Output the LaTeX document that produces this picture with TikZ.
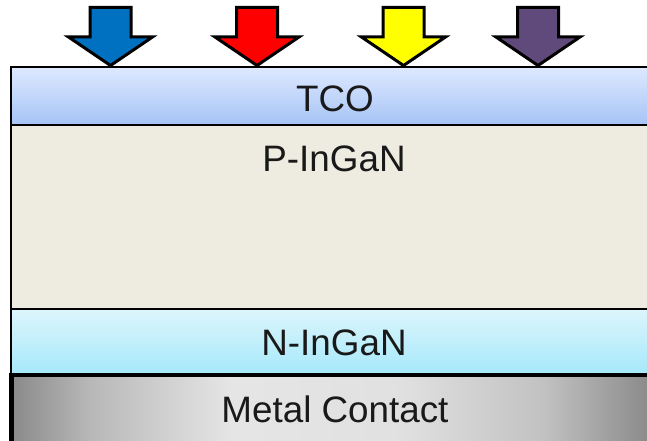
\documentclass[tikz,border=0pt]{standalone}
\usepackage{fontspec}
\setmainfont{Liberation Sans}
\definecolor{tcotop}{HTML}{DEE9FF}
\definecolor{tcobot}{HTML}{A6C4F6}
\definecolor{pfill}{HTML}{EEECE1}
\definecolor{ntop}{HTML}{DCF5FC}
\definecolor{nbot}{HTML}{A6E9FA}
\definecolor{arrblue}{HTML}{0070C0}
\definecolor{arrred}{HTML}{FF0000}
\definecolor{arryellow}{HTML}{FFFF00}
\definecolor{arrpurple}{HTML}{604A7B}
\pgfdeclarehorizontalshading{metalshade}{100bp}{
  color(0bp)=(black!46);
  color(25bp)=(black!46);
  color(31bp)=(black!28);
  color(42bp)=(black!10);
  color(55bp)=(black!12);
  color(66bp)=(black!24);
  color(75bp)=(black!48);
  color(100bp)=(black!48)}
\tikzset{
  layer/.style={draw=black, line width=2pt},
  lbl/.style={font=\fontsize{36.8}{40}\selectfont, text=black!90, anchor=base, inner sep=0pt},
  lightarrow/.style={draw=black, line width=3pt, line join=miter, miter limit=10}
}
\begin{document}
\begin{tikzpicture}[x=1pt,y=-1pt]
\useasboundingbox (0,0) rectangle (647,441);
\clip (0,0) rectangle (647,441);
% layers
\path[layer, top color=tcotop, bottom color=tcobot] (11,67) rectangle (660,125);
\path[layer, fill=pfill] (11,125) rectangle (660,309);
\path[layer, top color=ntop, bottom color=nbot] (11,309) rectangle (660,374);
\path[shading=metalshade] (11.5,375) rectangle (660,445);
\draw[black, line width=4.5pt] (11.5,460) -- (11.5,375) -- (660,375);
% labels
\node[lbl] (tco) at (335,112) {TCO};
\node[lbl] (pingan) at (334,171) {P-InGaN};
\node[lbl] (ningan) at (334,355) {N-InGaN};
\node[lbl] (metal) at (335,422) {Metal Contact};
% arrows
\foreach \cx/\col in {110.5/arrblue, 257/arrred, 403.5/arryellow, 538/arrpurple}{
  \path[lightarrow, fill=\col]
    (\cx-20.5,7.5) -- (\cx+20.5,7.5) -- (\cx+20.5,37) -- (\cx+42,37)
    -- (\cx,65.5) -- (\cx-42,37) -- (\cx-20.5,37) -- cycle;
}
\end{tikzpicture}
\end{document}
